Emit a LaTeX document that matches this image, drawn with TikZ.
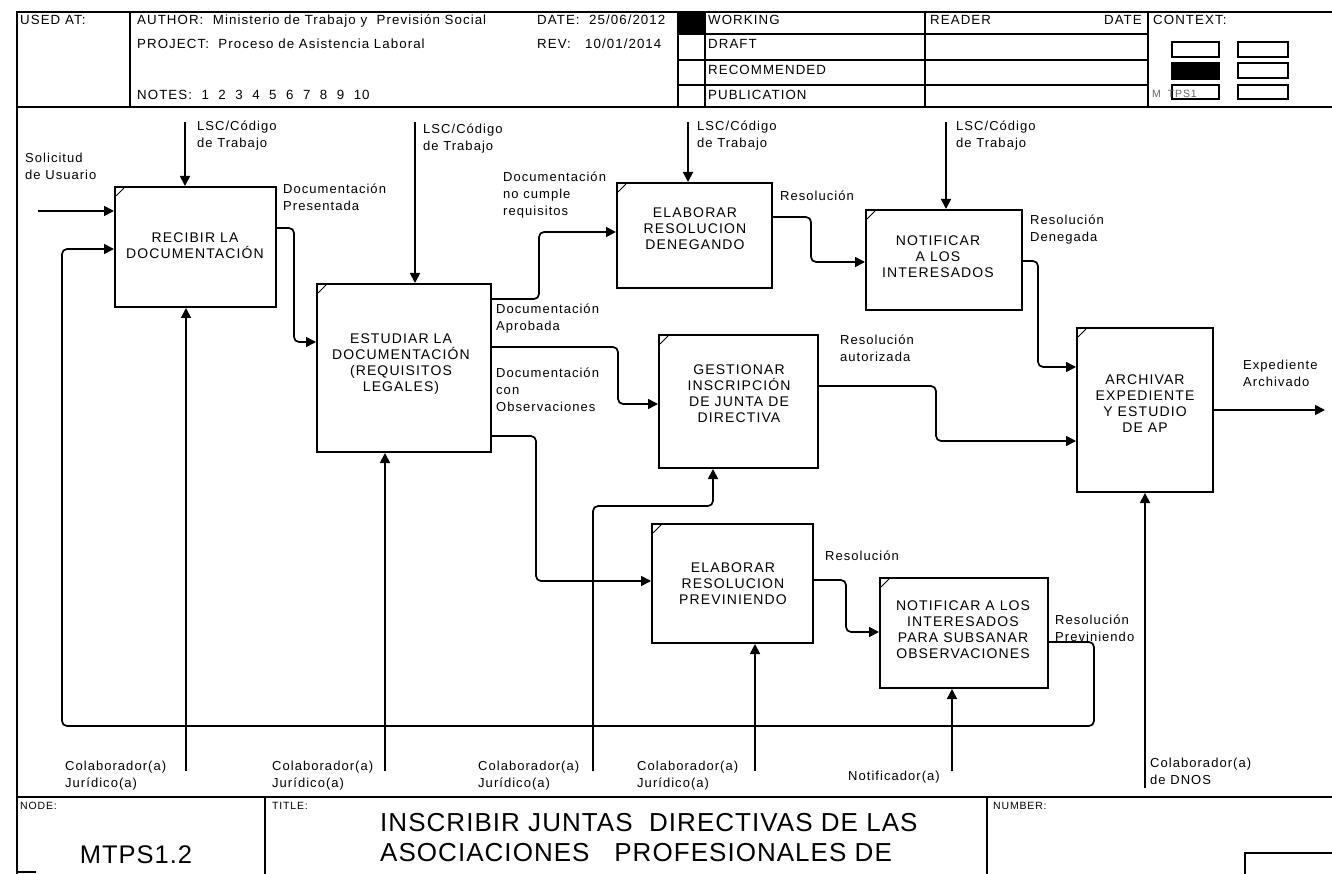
\documentclass[tikz,border=0pt]{standalone}
\usepackage{fontspec}
\setmainfont{Liberation Sans}
\newfontfamily\idef{Liberation Sans}[LetterSpace=8]
\newfontfamily\idefwide{Liberation Sans}[LetterSpace=4]
\usetikzlibrary{arrows.meta,calc}

\tikzset{
  box/.style={draw, line width=2pt, inner sep=0pt},
  boxtxt/.style={font=\idef\fontsize{14}{16}\selectfont, align=center, inner sep=0pt},
  lbl/.style={font=\idef\fontsize{13}{17}\selectfont, align=left, inner sep=0pt,
              anchor=north west, execute at begin node=\strut},
  hdr/.style={font=\idef\fontsize{13.3}{14}\selectfont, inner sep=0pt, anchor=base west},
  small/.style={font=\idef\fontsize{10.5}{12}\selectfont, inner sep=0pt, anchor=base west},
  big/.style={font=\idefwide\fontsize{26}{30}\selectfont, inner sep=0pt, align=left},
  arr/.style={line width=1.7pt, rounded corners=5pt, -{Triangle[length=10pt,width=10pt]}},
  frame/.style={line width=1.6pt},
  tick/.style={line width=0.8pt},
  minibox/.style={draw, line width=1.3pt},
}
\newcommand\icomtick[1]{\draw[tick] ($(#1.north west)+(2,10)$) -- ++(8,-8);}

\begin{document}
\begin{tikzpicture}[x=1pt,y=-1pt]
\useasboundingbox[fill=white] (0,0) rectangle (1332,874);

% ---------- outer frame and header grid ----------
\draw[frame] (1332,12) -- (17,12) -- (17,874);
\draw[frame] (17,107) -- (1332,107);
\draw[frame] (130,12) -- (130,107);
\draw[frame] (678,12) -- (678,107);
\draw[frame] (705,12) -- (705,107);
\draw[frame] (925,12) -- (925,107);
\draw[frame] (1148,12) -- (1148,107);
\draw[frame] (678,34) -- (1148,34);
\draw[frame] (678,60) -- (1148,60);
\draw[frame] (678,85) -- (1148,85);
\fill (678,12) rectangle (705,34);

% header texts
\node[hdr] (usedat) at (20,24.5) {USED AT:};
\node[hdr] (author) at (137,24.5) {AUTHOR:\ \ Ministerio de Trabajo y\ \ Previsión Social};
\node[hdr] (date) at (537,24.5) {DATE:\ \ 25/06/2012};
\node[hdr] (project) at (137,48.5) {PROJECT:\ \ Proceso de Asistencia Laboral};
\node[hdr] (rev) at (537,48.5) {REV:\ \ \ 10/01/2014};
\node[hdr] (notes) at (137,99.5) {NOTES:\ \ 1\ \ 2\ \ 3\ \ 4\ \ 5\ \ 6\ \ 7\ \ 8\ \ 9\ \ 10};
\node[hdr] (working) at (708,24.5) {WORKING};
\node[hdr] (draft) at (708,48.5) {DRAFT};
\node[hdr] (recom) at (708,74.5) {RECOMMENDED};
\node[hdr] (public) at (708,99.5) {PUBLICATION};
\node[hdr] (reader) at (930,24.5) {READER};
\node[hdr, anchor=base east] (rdate) at (1142,24.5) {DATE};
\node[hdr] (context) at (1153,24.5) {CONTEXT:};

% context thumbnails
\draw[minibox] (1172,42) rectangle (1219,57);
\draw[minibox] (1238,42) rectangle (1288,57);
\filldraw[minibox] (1172,63) rectangle (1219,79);
\draw[minibox] (1238,63) rectangle (1288,78);
\draw[minibox] (1172,85) rectangle (1219,99);
\draw[minibox] (1238,85) rectangle (1288,99);
\node[small, text=black!60] (ctxnode) at (1152,98) {M\kern7pt TPS1};

% ---------- bottom title block ----------
\draw[frame] (17,797) -- (1332,797);
\draw[frame] (265,797) -- (265,874);
\draw[frame] (987,797) -- (987,874);
\draw[frame] (1245,874) -- (1245,853) -- (1332,853);
\draw[frame] (17,872) -- (36,872);
\node[small] (nodelbl) at (20,809) {NODE:};
\node[small] (titlelbl) at (272,809) {TITLE:};
\node[small] (numlbl) at (993,809) {NUMBER:};
\node[font=\idefwide\fontsize{25.5}{28}\selectfont, inner sep=0pt] (nodeno) at (136,855) {MTPS1.2};
\node[big, anchor=west] (title) at (380,838) {INSCRIBIR JUNTAS\ \ DIRECTIVAS DE LAS\\ASOCIACIONES\ \ \ PROFESIONALES DE};

% ---------- activity boxes ----------
\node[box, minimum width=161pt, minimum height=120pt] (b1) at (195.5,247) {};
\node[box, minimum width=174pt, minimum height=168pt] (b2) at (404,368) {};
\node[box, minimum width=155pt, minimum height=105pt] (b3) at (694.5,235.5) {};
\node[box, minimum width=156pt, minimum height=100pt] (b4) at (944,260) {};
\node[box, minimum width=159pt, minimum height=133pt] (b5) at (738.5,401.5) {};
\node[box, minimum width=136pt, minimum height=164pt] (b6) at (1145,410) {};
\node[box, minimum width=161pt, minimum height=119pt] (b7) at (732.5,583.5) {};
\node[box, minimum width=168pt, minimum height=110pt] (b8) at (964,633) {};
\foreach \b in {b1,b2,b3,b4,b5,b6,b7,b8} {\icomtick{\b}}

\node[boxtxt] (t1) at (195,246) {RECIBIR LA\\DOCUMENTACIÓN};
\node[boxtxt] (t2) at (401,364) {ESTUDIAR LA\\DOCUMENTACIÓN\\(REQUISITOS\\LEGALES)};
\node[boxtxt] (t3) at (695,229) {ELABORAR\\RESOLUCION\\DENEGANDO};
\node[boxtxt] (t4) at (938,257) {NOTIFICAR\\A LOS\\INTERESADOS};
\node[boxtxt] (t5) at (739,394) {GESTIONAR\\INSCRIPCIÓN\\DE JUNTA DE\\DIRECTIVA};
\node[boxtxt] (t6) at (1145,404) {ARCHIVAR\\EXPEDIENTE\\Y ESTUDIO\\DE AP};
\node[boxtxt] (t7) at (733,584) {ELABORAR\\RESOLUCION\\PREVINIENDO};
\node[boxtxt] (t8) at (963,630) {NOTIFICAR A LOS\\INTERESADOS\\PARA SUBSANAR\\OBSERVACIONES};

% ---------- free ends ----------
\coordinate (ctl1) at (185,122);
\coordinate (ctl2) at (415,122);
\coordinate (ctl3) at (688,122);
\coordinate (ctl4) at (946,122);
\coordinate (in1) at (38,211);
\coordinate (out6) at (1325,410);
\coordinate (mec1) at (186,771);
\coordinate (mec2) at (385,771);
\coordinate (mec3) at (593,771);
\coordinate (mec4) at (755,771);
\coordinate (mec5) at (952,771);
\coordinate (mec6) at (1145,788);
\coordinate (loopc) at (62,726);

% controls
\draw[arr] (ctl1) -- (ctl1 |- b1.north);
\draw[arr] (ctl2) -- (ctl2 |- b2.north);
\draw[arr] (ctl3) -- (ctl3 |- b3.north);
\draw[arr] (ctl4) -- (ctl4 |- b4.north);

% inputs and outputs
\draw[arr] (in1) -- (in1 -| b1.west);
\draw[arr] ($(b1.north east)+(0,42)$) -- ++(17,0) |- ($(b2.north west)+(0,59)$);
\draw[arr] ($(b2.north east)+(0,16)$) -- ++(47,0) |- ($(b3.north west)+(0,50)$);
\draw[arr] ($(b2.north east)+(0,64)$) -- ++(126,0) |- ($(b5.north west)+(0,70)$);
\draw[arr] ($(b2.north east)+(0,153)$) -- ++(44,0) |- ($(b7.north west)+(0,58)$);
\draw[arr] ($(b3.north east)+(0,35)$) -- ++(38,0) |- ($(b4.north west)+(0,53)$);
\draw[arr] ($(b4.north east)+(0,52)$) -- ++(15,0) |- ($(b6.north west)+(0,40)$);
\draw[arr] ($(b5.north east)+(0,52)$) -- ++(117,0) |- ($(b6.north west)+(0,114)$);
\draw[arr] (b6.east) -- (out6);
\draw[arr] ($(b7.north east)+(0,57)$) -- ++(32,0) |- ($(b8.north west)+(0,55)$);
\draw[arr] ($(b8.north east)+(0,65)$) -- ++(45,0) |- (loopc) |- ($(b1.north west)+(0,63)$);

% mechanisms
\draw[arr] (mec1) -- (mec1 |- b1.south);
\draw[arr] (mec2) -- (mec2 |- b2.south);
\draw[arr] (mec3) |- ($(b5.south)+(-25.5,37)$) -- ($(b5.south)+(-25.5,0)$);
\draw[arr] (mec4) -- (mec4 |- b7.south);
\draw[arr] (mec5) -- (mec5 |- b8.south);
\draw[arr] (mec6) -- (mec6 |- b6.south);

% ---------- arrow labels ----------
\node[lbl] (l1) at (197,121) {LSC/Código\\de Trabajo};
\node[lbl] (l2) at (423,124) {LSC/Código\\de Trabajo};
\node[lbl] (l3) at (697,121) {LSC/Código\\de Trabajo};
\node[lbl] (l4) at (956,121) {LSC/Código\\de Trabajo};
\node[lbl] (l5) at (25,153) {Solicitud\\de Usuario};
\node[lbl] (l6) at (283,184) {Documentación\\Presentada};
\node[lbl] (l7) at (503,172) {Documentación\\no cumple\\requisitos};
\node[lbl] (l8) at (780,188) {Resolución};
\node[lbl] (l9) at (1030,215) {Resolución\\Denegada};
\node[lbl] (l10) at (496,304) {Documentación\\Aprobada};
\node[lbl] (l11) at (496,368) {Documentación\\con\\Observaciones};
\node[lbl] (l12) at (840,335) {Resolución\\autorizada};
\node[lbl] (l13) at (1243,360) {Expediente\\Archivado};
\node[lbl] (l14) at (825,548) {Resolución};
\node[lbl] (l15) at (1055,615) {Resolución\\Previniendo};
\node[lbl] (l16) at (65,761) {Colaborador(a)\\Jurídico(a)};
\node[lbl] (l17) at (272,761) {Colaborador(a)\\Jurídico(a)};
\node[lbl] (l18) at (478,761) {Colaborador(a)\\Jurídico(a)};
\node[lbl] (l19) at (637,761) {Colaborador(a)\\Jurídico(a)};
\node[lbl] (l20) at (848,768) {Notificador(a)};
\node[lbl] (l21) at (1150,758) {Colaborador(a)\\de DNOS};
\end{tikzpicture}
\end{document}
